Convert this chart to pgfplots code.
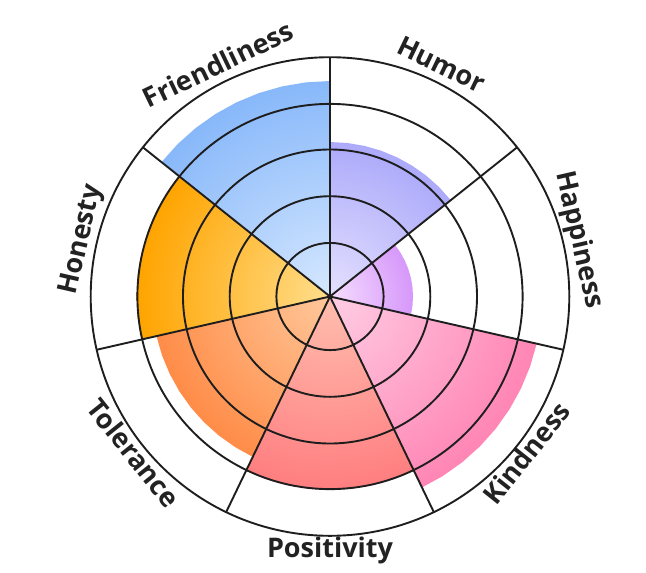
\documentclass[border=0pt]{standalone}
\usepackage{fontspec}
\setmainfont{Open Sans}
\usepackage{pgfplots}
\usepgfplotslibrary{polar}
\pgfplotsset{compat=1.18}
\definecolor{txt}{HTML}{222222}
\definecolor{gridc}{HTML}{1E1E1E}
\definecolor{F1}{RGB}{214,232,255}\definecolor{F2}{RGB}{136,184,250}
\definecolor{H1}{RGB}{228,224,255}\definecolor{H2}{RGB}{172,170,250}
\definecolor{P1}{RGB}{246,222,255}\definecolor{P2}{RGB}{214,152,250}
\definecolor{K1}{RGB}{255,205,228}\definecolor{K2}{RGB}{255,133,180}
\definecolor{S1}{RGB}{255,190,175}\definecolor{S2}{RGB}{255,126,128}
\definecolor{T1}{RGB}{255,200,155}\definecolor{T2}{RGB}{255,140,72}
\definecolor{O1}{RGB}{255,222,140}\definecolor{O2}{RGB}{255,164,0}
\tikzset{sectshade/.style n args={3}{draw=none, path picture={\shade[path picture={}, inner color=#1, outer color=#2] (axis cs:0,0) circle[radius=#3bp];}},
  lab/.style={font=\fontsize{27bp}{30bp}\selectfont\bfseries, text=txt, anchor=base, inner sep=0pt}}
\begin{document}
\begin{tikzpicture}
\path (0,0) rectangle (646bp,-573bp);
\begin{polaraxis}[
  at={(330bp,-296.5bp)}, anchor=center,
  scale only axis, width=478.6bp, height=478.6bp,
  xmin=0, xmax=360, ymin=0, ymax=239.3,
  xtick={38.5714,90,141.4286,192.8571,244.2857,295.7143,347.1429},
  ytick={53.6,100.3,147,192.6},
  xticklabels={}, yticklabels={},
  major tick length=0pt,
  xmajorgrids, ymajorgrids,
  grid style={draw=gridc, line width=1.9bp},
  separate axis lines,
  x axis line style={draw=gridc, line width=1.9bp},
  y axis line style={draw=none},
  axis on top,
  clip=false,
]
% Humor
\addplot[sectshade={H1}{H2}{154.5}] coordinates {(0,0) (90,154.5) (83.5714,154.5) (77.1429,154.5) (70.7143,154.5) (64.2857,154.5) (57.8571,154.5) (51.4286,154.5) (45,154.5) (38.5714,154.5) (0,0)};
% Happiness
\addplot[sectshade={P1}{P2}{83}] coordinates {(0,0) (38.5714,83) (32.1429,83) (25.7143,83) (19.2857,83) (12.8571,83) (6.4286,83) (0,83) (353.5714,83) (347.1429,83) (0,0)};
% Kindness
\addplot[sectshade={K1}{K2}{212}] coordinates {(0,0) (347.1429,212) (340.7143,212) (334.2857,212) (327.8571,212) (321.4286,212) (315,212) (308.5714,212) (302.1429,212) (295.7143,212) (0,0)};
% Positivity
\addplot[sectshade={S1}{S2}{193.5}] coordinates {(0,0) (295.7143,193.5) (289.2857,193.5) (282.8571,193.5) (276.4286,193.5) (270,193.5) (263.5714,193.5) (257.1429,193.5) (250.7143,193.5) (244.2857,193.5) (0,0)};
% Tolerance
\addplot[sectshade={T1}{T2}{178}] coordinates {(0,0) (244.2857,178) (237.8571,178) (231.4286,178) (225,178) (218.5714,178) (212.1429,178) (205.7143,178) (199.2857,178) (192.8571,178) (0,0)};
% Honesty
\addplot[sectshade={O1}{O2}{193.5}] coordinates {(0,0) (192.8571,193.5) (186.4286,193.5) (180,193.5) (173.5714,193.5) (167.1429,193.5) (160.7143,193.5) (154.2857,193.5) (147.8571,193.5) (141.4286,193.5) (0,0)};
% Friendliness
\addplot[sectshade={F1}{F2}{215.5}] coordinates {(0,0) (141.4286,215.5) (135,215.5) (128.5714,215.5) (122.1429,215.5) (115.7143,215.5) (109.2857,215.5) (102.8571,215.5) (96.4286,215.5) (90,215.5) (0,0)};
% labels
\node[lab, rotate=-25.7143] at (axis cs:64.2857,248) {Humor};
\node[lab, rotate=-77.1429] at (axis cs:12.8571,248) {Happiness};
\node[lab, rotate=51.4286] at (axis cs:321.4286,261) {Kindness};
\node[lab, rotate=0] at (axis cs:270,261) {Positivity};
\node[lab, rotate=-51.4286] at (axis cs:218.5714,261) {Tolerance};
\node[lab, rotate=77.1429] at (axis cs:167.1429,248) {Honesty};
\node[lab, rotate=25.7143] at (axis cs:115.7143,248) {Friendliness};
\end{polaraxis}
\end{tikzpicture}
\end{document}
